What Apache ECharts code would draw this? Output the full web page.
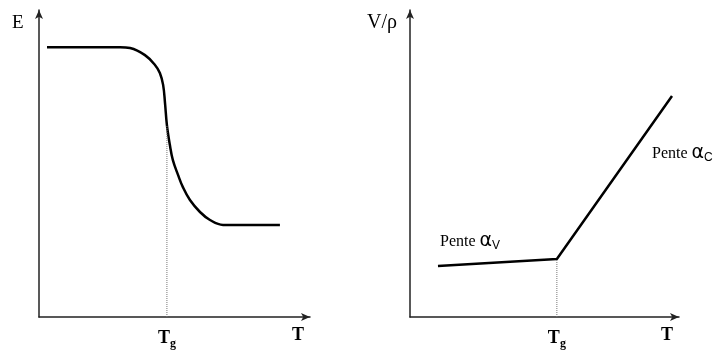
<!DOCTYPE html>
<html><head><meta charset="utf-8">
<script src="https://cdn.jsdelivr.net/npm/echarts@6/dist/echarts.min.js"></script>
<style>html,body{margin:0;padding:0;background:#fff}#c{width:723px;height:351px}</style>
</head><body><div id="c"></div>
<script>
// Left panel: modulus E vs temperature T
const leftCurveX = [2.95, 29.9, 33.6, 39.1, 42.8, 44.6, 45.8, 46.5, 47.2, 48.3, 49.4, 51.3, 53.1, 55.7, 59.4, 63.1, 67.9, 88.9];
const leftCurveY = [87.9, 87.9, 87.6, 85.3, 82.1, 79.5, 75.6, 69.7, 62.5, 56.0, 51.1, 46.3, 42.3, 38.1, 34.2, 31.6, 30.0, 30.0];
const leftTg = 47.2;
const leftTgY = 62.5;
// Right panel: V/rho vs T
const rightLineX = [10.4, 54.6, 97.4];
const rightLineY = [16.6, 18.9, 72.0];
const rightTg = 54.6;
const rightTgY = 18.9;
// Tick labels
const leftTickValues = [leftTg, 95.6];
const rightTickValues = [rightTg, 95.5];
const tickLabels = ['Tg', 'T'];

const serif = '"Liberation Serif","Times New Roman",serif';
const axisLineStyle = {show: true, symbol: ['none', 'arrow'], symbolSize: [6, 9], lineStyle: {color: '#222', width: 1.5}};

function xAxisFor(idx, ticks) {
  return {
    type: 'value', gridIndex: idx, min: 0, max: 100,
    axisLine: axisLineStyle, axisTick: {show: false}, splitLine: {show: false},
    axisLabel: {
      show: true, customValues: ticks, margin: 9,
      formatter: function (v) {
        const i = ticks.indexOf(v);
        const t = tickLabels[i];
        return t === 'Tg' ? '{t|T}{g|g}' : '{t|T}';
      },
      rich: {
        t: {fontFamily: serif, fontSize: 18, color: '#000', fontWeight: 'bold'},
        g: {fontFamily: serif, fontSize: 12, color: '#000', fontWeight: 'bold', padding: [12, 0, 0, 0]}
      }
    }
  };
}
function yAxisFor(idx) {
  return {
    type: 'value', gridIndex: idx, min: 0, max: 100,
    axisLine: axisLineStyle, axisTick: {show: false}, splitLine: {show: false}, axisLabel: {show: false}
  };
}
const pente = {
  p: {fontFamily: serif, fontSize: 16, fill: '#000'},
  a: {fontFamily: 'DejaVu Sans, sans-serif', fontSize: 19, fill: '#000'},
  s: {fontFamily: 'Liberation Sans, sans-serif', fontSize: 12, fill: '#000', padding: [9, 0, 0, 0]}
};

const chart = echarts.init(document.getElementById('c'));
chart.setOption({
  animation: false,
  backgroundColor: '#fff',
  grid: [
    {left: 39, top: 10, width: 271, height: 307},
    {left: 410, top: 10, width: 269, height: 307}
  ],
  xAxis: [xAxisFor(0, leftTickValues), xAxisFor(1, rightTickValues)],
  yAxis: [yAxisFor(0), yAxisFor(1)],
  series: [
    {
      type: 'line', xAxisIndex: 0, yAxisIndex: 0, smooth: 0.4, symbol: 'none',
      lineStyle: {color: '#000', width: 2.5},
      data: leftCurveX.map((x, i) => [x, leftCurveY[i]])
    },
    {
      type: 'line', xAxisIndex: 0, yAxisIndex: 0, symbol: 'none',
      lineStyle: {color: '#777', width: 1, type: [1, 1]},
      data: [[leftTg, 0], [leftTg, leftTgY]]
    },
    {
      type: 'line', xAxisIndex: 1, yAxisIndex: 1, symbol: 'none',
      lineStyle: {color: '#000', width: 2.5},
      data: rightLineX.map((x, i) => [x, rightLineY[i]])
    },
    {
      type: 'line', xAxisIndex: 1, yAxisIndex: 1, symbol: 'none',
      lineStyle: {color: '#777', width: 1, type: [1, 1]},
      data: [[rightTg, 0], [rightTg, rightTgY]]
    }
  ],
  graphic: [
    {type: 'text', left: 12, top: 14, style: {text: 'E', font: '19px ' + serif, fill: '#000'}},
    {type: 'text', left: 367, top: 13, style: {text: 'V/ρ', font: '20px ' + serif, fill: '#000'}},
    {type: 'text', left: 440, top: 232, style: {text: '{p|Pente }{a|α}{s|V}', rich: pente}},
    {type: 'text', left: 652, top: 144, style: {text: '{p|Pente }{a|α}{s|C}', rich: pente}}
  ]
});
</script></body></html>
